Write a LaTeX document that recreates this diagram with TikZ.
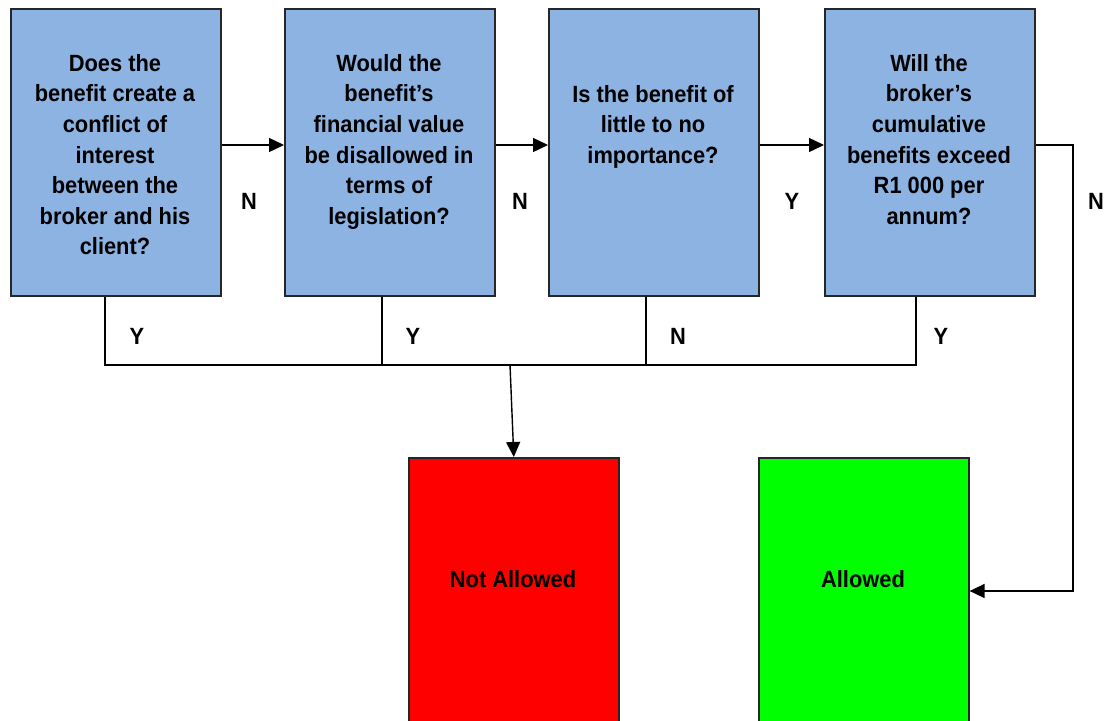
\documentclass[tikz,border=0pt]{standalone}
\usepackage{fontspec}
\setmainfont{Liberation Sans}[FakeStretch=0.93]
\usetikzlibrary{arrows.meta}
\definecolor{qblue}{RGB}{141,179,226}
\definecolor{nored}{RGB}{255,0,0}
\definecolor{yesgreen}{RGB}{0,255,0}
\begin{document}
\begin{tikzpicture}[x=1pt,y=-1pt,
  box/.style={draw=black!85, line width=1.6pt, minimum width=210pt, minimum height=287pt, anchor=north west, inner sep=0pt, fill=qblue},
  endbox/.style={draw=black!85, line width=1.6pt, minimum width=210pt, minimum height=280pt, anchor=north west, inner sep=0pt},
  txt/.style={font=\bfseries\fontsize{23.5}{30.6}\selectfont, align=center, anchor=north, inner sep=0pt},
  lbl/.style={font=\bfseries\fontsize{23.5}{25}\selectfont, inner sep=0pt},
  conn/.style={line width=1.4pt, draw=black},
  arr/.style={conn, -{Triangle[length=15pt,width=14pt]}}]
\useasboundingbox (0,0) rectangle (1105,720);
\clip (0,0) rectangle (1105,720);
\fill[white] (0,0) rectangle (1105,720);
% question boxes
\node[box] (b1) at (10,8) {};
\node[box] (b2) at (284,8) {};
\node[box] (b3) at (548,8) {};
\node[box] (b4) at (824,8) {};
\node[txt] (t1) at (115,54) {Does the\\benefit create a\\conflict of\\interest\\between the\\broker and his\\client?};
\node[txt] (t2) at (389,54) {Would the\\benefit’s\\financial value\\be disallowed in\\terms of\\legislation?};
\node[txt] (t3) at (653,85) {Is the benefit of\\little to no\\importance?};
\node[txt] (t4) at (929,54) {Will the\\broker’s\\cumulative\\benefits exceed\\R1 000 per\\annum?};
% outcome boxes
\node[endbox, fill=nored] (na) at (408,457) {};
\node[endbox, fill=yesgreen] (al) at (758,457) {};
\node[txt] (tna) at (513,570) {Not Allowed};
\node[txt] (tal) at (863,570) {Allowed};
% horizontal connectors
\coordinate (r) at (0,145);
\draw[arr] (b1.east |- r) -- (b2.west |- r);
\draw[arr] (b2.east |- r) -- (b3.west |- r);
\draw[arr] (b3.east |- r) -- (b4.west |- r);
\coordinate (rr) at (1073,145);
\coordinate (rb) at (1073,591);
\draw[arr] (b4.east |- r) -- (rr) -- (rb) -- (al.east |- rb);
% bottom collector
\coordinate (d1) at (105,365);
\coordinate (d2) at (382,365);
\coordinate (d3) at (646,365);
\coordinate (d4) at (916,365);
\coordinate (j) at (510,365);
\draw[conn] (b1.south -| d1) -- (d1) -- (d4) -- (b4.south -| d4);
\draw[conn] (b2.south -| d2) -- (d2);
\draw[conn] (b3.south -| d3) -- (d3);
\draw[arr] (j) -- (na.north);
% labels
\node[lbl] (n1) at (249,201) {N};
\node[lbl] (n2) at (520,201) {N};
\node[lbl] (n3) at (792,201) {Y};
\node[lbl] (n4) at (1096,201) {N};
\node[lbl] (y1) at (137,336) {Y};
\node[lbl] (y2) at (413,336) {Y};
\node[lbl] (y3) at (678,336) {N};
\node[lbl] (y4) at (941,336) {Y};
\end{tikzpicture}
\end{document}
